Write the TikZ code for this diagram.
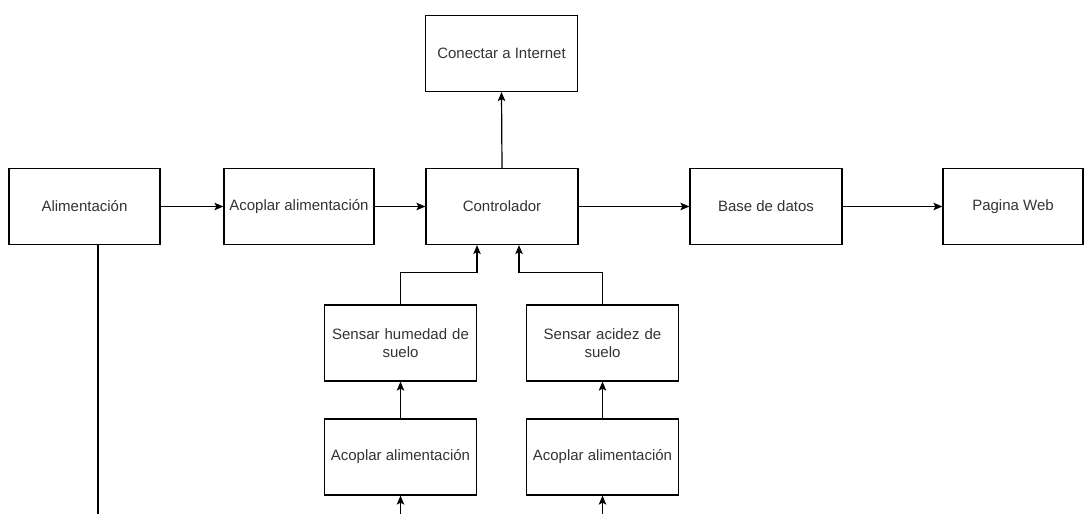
\documentclass[tikz,border=0pt]{standalone}
\usepackage{fontspec}
\setmainfont{Liberation Sans}
\usetikzlibrary{positioning,arrows.meta}

\begin{document}
\begin{tikzpicture}[x=1pt,y=-1pt,
    block/.style={draw, line width=1.2pt, minimum width=152pt, minimum height=76pt,
      align=center, inner sep=1pt, text=black!80, font=\fontsize{15}{18}\selectfont},
    arr/.style={-{Stealth[length=9pt,width=7.5pt,inset=2pt]}, line width=1.2pt},
    wire/.style={line width=1.2pt}]
    \useasboundingbox (0,0) rectangle (1084,514);

    \node[block] (conectar) at (501.5,53.5) {Conectar a Internet};
    \node[block, minimum width=151pt] (alimentacion) at (84.5,206.5) {Alimentación};
    \node[block, minimum width=150pt] (acoplarMain) at (299,206.5) {Acoplar alimentación};
    \node[block] (controlador) at (502,206.5) {Controlador};
    \node[block] (baseDatos) at (766,206.5) {Base de datos};
    \node[block, minimum width=140pt] (paginaWeb) at (1013,206.5) {Pagina Web};
    \node[block, text width=148pt] (humedad) at (400.5,343) {Sensar humedad de\\suelo};
    \node[block, text width=148pt] (acidez) at (602.5,343) {Sensar acidez de\\suelo};
    \node[block] (acoplarHumedad) at (400.5,457) {Acoplar alimentación};
    \node[block] (acoplarAcidez) at (602.5,457) {Acoplar alimentación};

    \coordinate (alimBajo) at (98,514);
    \coordinate (humedadIn) at (400.5,514);
    \coordinate (acidezIn) at (602.5,514);

\draw[arr] (alimentacion) -- (acoplarMain);
\draw[arr] (acoplarMain) -- (controlador);
\draw[arr] (controlador) -- (baseDatos);
\draw[arr] (baseDatos) -- (paginaWeb);
\draw[arr] (controlador.north) -- (conectar.south);
\draw[arr] (humedad.north) -- ++(0,-32) -| ([xshift=-25pt]controlador.south);
\draw[arr] (acidez.north) -- ++(0,-32) -| ([xshift=17pt]controlador.south);
\draw[arr] (acoplarHumedad) -- (humedad);
\draw[arr] (acoplarAcidez) -- (acidez);
\draw[arr] (humedadIn) -- (acoplarHumedad);
\draw[arr] (acidezIn) -- (acoplarAcidez);
\draw[wire] (alimentacion.south -| alimBajo) -- (alimBajo);

\end{tikzpicture}
\end{document}
